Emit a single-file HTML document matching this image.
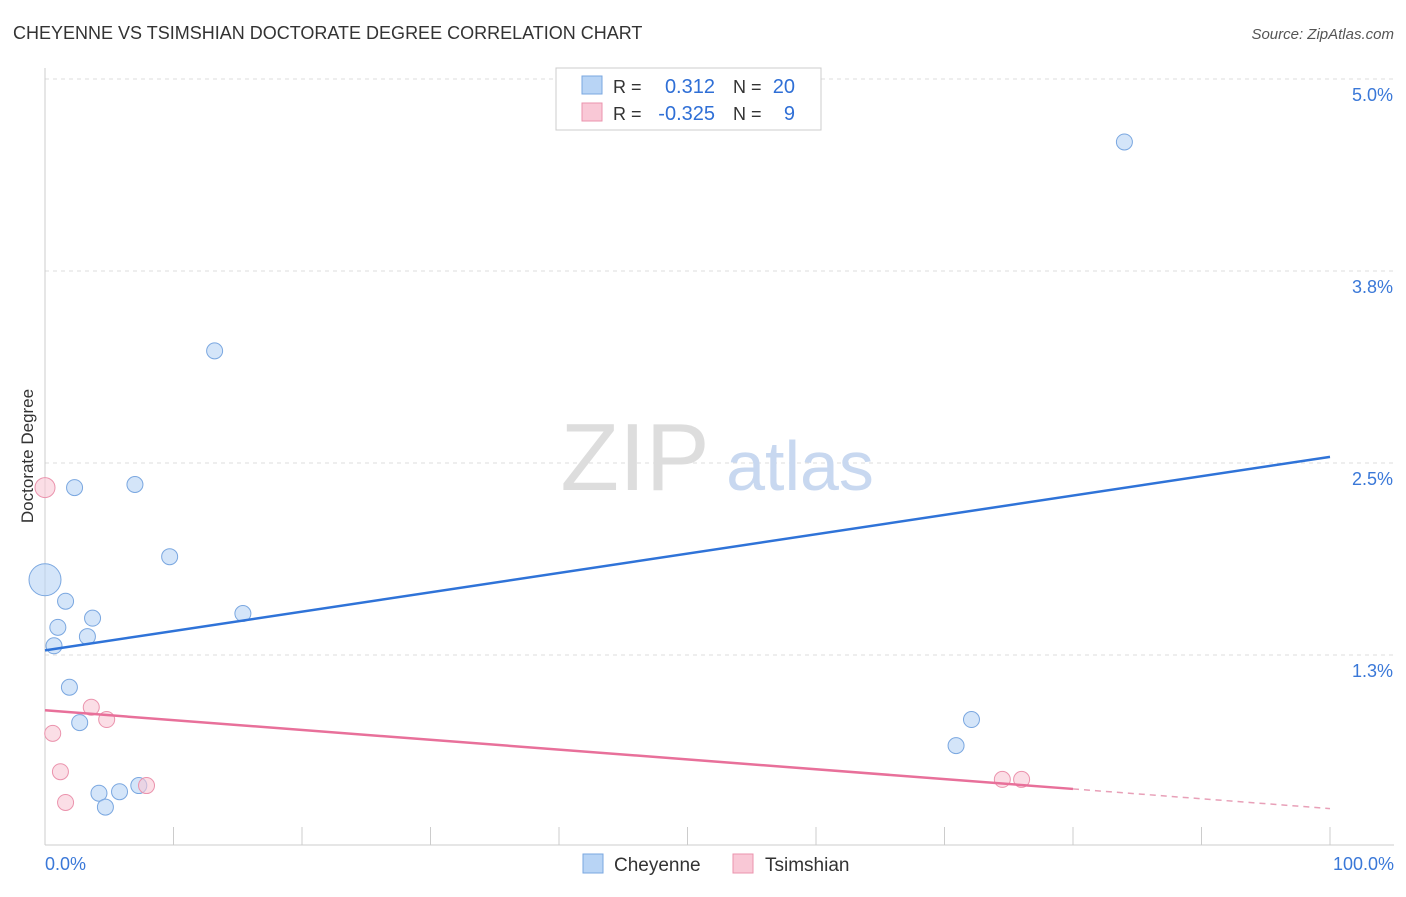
<!DOCTYPE html>
<html><head><meta charset="utf-8"><style>
body{margin:0;background:#fff;font-family:"Liberation Sans",sans-serif;}
svg text{font-family:"Liberation Sans",sans-serif;}
</style></head><body>
<svg width="1406" height="892" xmlns="http://www.w3.org/2000/svg">
<text x="13" y="39" font-size="18" fill="#333">CHEYENNE VS TSIMSHIAN DOCTORATE DEGREE CORRELATION CHART</text>
<text x="1394" y="39" font-size="15" fill="#555" text-anchor="end" font-style="italic">Source: ZipAtlas.com</text>
<g id="grid"></g>
<g id="watermark">
<text x="635" y="490" font-size="96" fill="#ddd" font-family="Liberation Serif" text-anchor="middle">ZIP</text>
<text x="800" y="490" font-size="70" fill="#c8d8f0" text-anchor="middle">atlas</text>
</g>
<g id="axes"></g>
<g id="marks"></g>
<text x="33" y="456" font-size="17" fill="#333" text-anchor="middle" transform="rotate(-90 33 456)">Doctorate Degree</text>
<g>
<rect x="556" y="68" width="265" height="62" fill="#fff" stroke="#ccc"/>
<rect x="582" y="76" width="20" height="18" fill="#b8d4f5" stroke="#7aa7e0"/>
<rect x="582" y="103" width="20" height="18" fill="#f9c8d6" stroke="#eb93ad"/>
<text x="613" y="93" font-size="18" fill="#333">R = </text><text x="715" y="93" font-size="20" fill="#2f6fd6" text-anchor="end">0.312</text>
<text x="733" y="93" font-size="18" fill="#333">N = </text><text x="795" y="93" font-size="20" fill="#2f6fd6" text-anchor="end">20</text>
<text x="613" y="120" font-size="18" fill="#333">R = </text><text x="715" y="120" font-size="20" fill="#2f6fd6" text-anchor="end">-0.325</text>
<text x="733" y="120" font-size="18" fill="#333">N = </text><text x="795" y="120" font-size="20" fill="#2f6fd6" text-anchor="end">9</text>
</g>
<g>
<rect x="583" y="854" width="20" height="19" fill="#b8d4f5" stroke="#7aa7e0"/>
<text x="614" y="871" font-size="19" fill="#333">Cheyenne</text>
<rect x="733" y="854" width="20" height="19" fill="#f9c8d6" stroke="#eb93ad"/>
<text x="765" y="871" font-size="19" fill="#333">Tsimshian</text>
</g>
</svg>
<script>
const yTicks=[1.25,2.5,3.75,5.0];
const yTickLabels=["1.3%","2.5%","3.8%","5.0%"];
const xTickLabels=["0.0%","100.0%"];
const cheyenneX=[84,13.2,2.3,7.0,9.7,0,1.6,15.4,3.7,1.0,3.3,0.7,1.9,2.7,72.1,70.9,4.2,5.8,7.3,4.7];
const cheyenneY=[4.59,3.23,2.34,2.36,1.89,1.74,1.60,1.52,1.49,1.43,1.37,1.31,1.04,0.81,0.83,0.66,0.35,0.36,0.40,0.26];
const cheyenneR=[8,8,8,8,8,16,8,8,8,8,8,8,8,8,8,8,8,8,8,8];
const tsimX=[0,3.6,4.8,0.6,1.2,1.6,7.9,74.5,76.0];
const tsimY=[2.34,0.91,0.83,0.74,0.49,0.29,0.40,0.44,0.44];
const tsimR=[10,8,8,8,8,8,8,8,8];
const cheyenneTrend=[1.28,2.54];
const tsimTrend=[0.89,0.25];
const tsimSolidEnd=80;
const NS="http://www.w3.org/2000/svg";
const X=p=>45+p*12.85, Y=v=>655-(v-1.25)*153.6;
function mk(tag,attrs,parent){const e=document.createElementNS(NS,tag);for(const k in attrs)e.setAttribute(k,attrs[k]);document.getElementById(parent).appendChild(e);return e;}
yTicks.forEach((t,i)=>{
 const l=mk('line',{x1:45,x2:1394,y1:Y(t),y2:Y(t),stroke:'#ddd','stroke-dasharray':'4,4'},'grid');
 
 
 const tx=mk('text',{x:1393,y:Y(t)+22,'font-size':18,fill:'#3a78d8','text-anchor':'end'},'axes');
 tx.textContent=yTickLabels[i];
 
 
});
const topg=mk('line',{x1:45,x2:1394,y1:79,y2:79,stroke:'#ddd','stroke-dasharray':'4,4'},'grid');


const ya=mk('line',{x1:45,x2:45,y1:68,y2:845,stroke:'#ccc'},'axes');


const xa=mk('line',{x1:45,x2:1394,y1:845,y2:845,stroke:'#ccc'},'axes');


for(let i=0;i<=10;i++){const t=mk('line',{x1:X(i*10),x2:X(i*10),y1:827,y2:845,stroke:'#ccc'},'axes');
 
 }
[[0,'start',45],[100,'end',1394]].forEach((a,i)=>{const t=mk('text',{x:a[2],y:870,'font-size':18,fill:'#3a78d8','text-anchor':a[1]},'axes');t.textContent=xTickLabels[i];
 
 });
cheyenneX.forEach((x,i)=>{const c=mk('circle',{cx:X(x),cy:Y(cheyenneY[i]),r:cheyenneR[i],fill:'#b8d4f5','fill-opacity':0.6,stroke:'#7aa7e0'},'marks');
 
 });
tsimX.forEach((x,i)=>{const c=mk('circle',{cx:X(x),cy:Y(tsimY[i]),r:tsimR[i],fill:'#f9c8d6','fill-opacity':0.6,stroke:'#eb93ad'},'marks');
 
 });
const bl=mk('line',{x1:X(0),y1:Y(cheyenneTrend[0]),x2:X(100),y2:Y(cheyenneTrend[1]),stroke:'#2f73d8','stroke-width':2.5},'marks');


const ym=tsimTrend[0]+(tsimTrend[1]-tsimTrend[0])*tsimSolidEnd/100;
const pl=mk('line',{x1:X(0),y1:Y(tsimTrend[0]),x2:X(tsimSolidEnd),y2:Y(ym),stroke:'#e8709a','stroke-width':2.5},'marks');


const pd=mk('line',{x1:X(tsimSolidEnd),y1:Y(ym),x2:X(100),y2:Y(tsimTrend[1]),stroke:'#e8a0b8','stroke-width':1.5,'stroke-dasharray':'6,5'},'marks');


</script>
</body></html>
